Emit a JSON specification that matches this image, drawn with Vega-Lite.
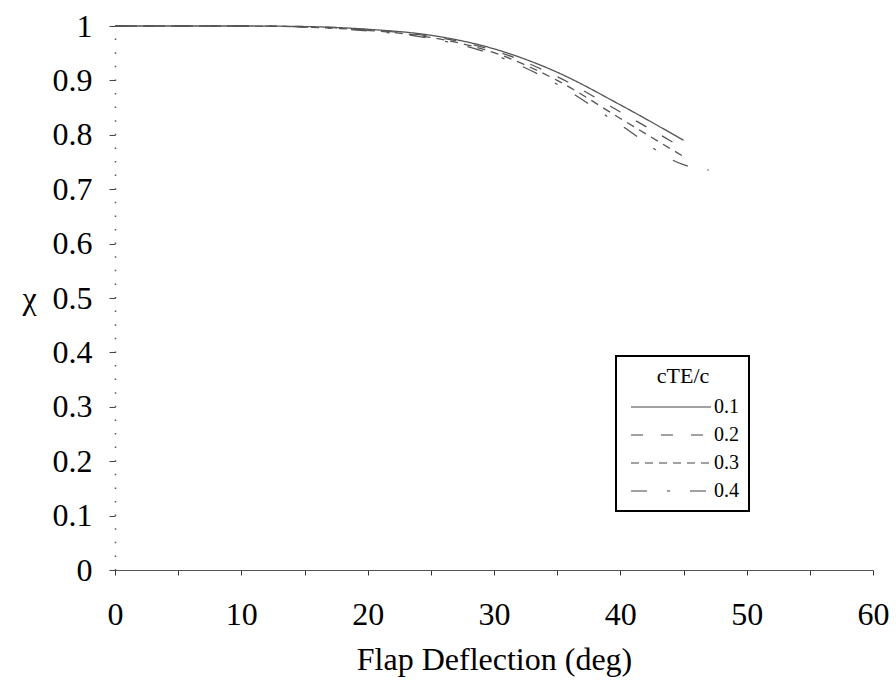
{
  "$schema": "https://vega.github.io/schema/vega-lite/v6.json",
  "width": 758,
  "height": 544,
  "autosize": {"type": "none"},
  "padding": {"left": 115, "top": 26, "right": 23, "bottom": 115},
  "background": "white",
  "config": {
    "view": {"stroke": null},
    "font": "Liberation Serif",
    "axis": {"grid": false, "labelFont": "Liberation Serif", "titleFont": "Liberation Serif", "labelColor": "black", "titleColor": "black", "titleFontWeight": "normal"},
    "legend": {"labelFont": "Liberation Serif", "titleFont": "Liberation Serif"}
  },
  "data": {
    "values": [
      {"d": 0, "chi": 1.0, "s": "0.1"}, {"d": 5, "chi": 1.0, "s": "0.1"}, {"d": 10, "chi": 1.0, "s": "0.1"}, {"d": 15, "chi": 0.999, "s": "0.1"}, {"d": 20, "chi": 0.994, "s": "0.1"}, {"d": 25, "chi": 0.983, "s": "0.1"}, {"d": 30, "chi": 0.958, "s": "0.1"}, {"d": 35, "chi": 0.915, "s": "0.1"}, {"d": 40, "chi": 0.855, "s": "0.1"}, {"d": 45, "chi": 0.79, "s": "0.1"},
      {"d": 0, "chi": 1.0, "s": "0.2"}, {"d": 5, "chi": 1.0, "s": "0.2"}, {"d": 10, "chi": 1.0, "s": "0.2"}, {"d": 15, "chi": 0.999, "s": "0.2"}, {"d": 20, "chi": 0.993, "s": "0.2"}, {"d": 25, "chi": 0.981, "s": "0.2"}, {"d": 30, "chi": 0.955, "s": "0.2"}, {"d": 35, "chi": 0.907, "s": "0.2"}, {"d": 40, "chi": 0.842, "s": "0.2"}, {"d": 45, "chi": 0.775, "s": "0.2"},
      {"d": 0, "chi": 1.0, "s": "0.3"}, {"d": 5, "chi": 1.0, "s": "0.3"}, {"d": 10, "chi": 1.0, "s": "0.3"}, {"d": 15, "chi": 0.998, "s": "0.3"}, {"d": 20, "chi": 0.992, "s": "0.3"}, {"d": 25, "chi": 0.979, "s": "0.3"}, {"d": 30, "chi": 0.951, "s": "0.3"}, {"d": 35, "chi": 0.9, "s": "0.3"}, {"d": 40, "chi": 0.83, "s": "0.3"}, {"d": 45, "chi": 0.76, "s": "0.3"},
      {"d": 0, "chi": 1.0, "s": "0.4"}, {"d": 5, "chi": 1.0, "s": "0.4"}, {"d": 10, "chi": 1.0, "s": "0.4"}, {"d": 15, "chi": 0.998, "s": "0.4"}, {"d": 20, "chi": 0.991, "s": "0.4"}, {"d": 25, "chi": 0.977, "s": "0.4"}, {"d": 30, "chi": 0.947, "s": "0.4"}, {"d": 35, "chi": 0.893, "s": "0.4"}, {"d": 40, "chi": 0.818, "s": "0.4"}, {"d": 45, "chi": 0.745, "s": "0.4"}, {"d": 47, "chi": 0.735, "s": "0.4"}
    ]
  },
  "mark": {"type": "line", "color": "#555555", "strokeWidth": 1.3, "interpolate": "monotone"},
  "encoding": {
    "x": {
      "field": "d", "type": "quantitative",
      "scale": {"domain": [0, 60], "nice": false},
      "axis": {
        "title": "Flap Deflection (deg)",
        "values": [0, 5, 10, 15, 20, 25, 30, 35, 40, 45, 50, 55, 60],
        "labelExpr": "datum.value % 10 === 0 ? datum.label : ''",
        "labelFontSize": 32, "titleFontSize": 32,
        "tickSize": 5, "tickColor": "#333", "domainColor": "#555", "domainWidth": 1.2,
        "labelPadding": 24, "titlePadding": 14, "labelFlush": false
      }
    },
    "y": {
      "field": "chi", "type": "quantitative",
      "scale": {"domain": [0, 1], "nice": false},
      "axis": {
        "title": "χ",
        "format": "~g",
        "values": [0, 0.1, 0.2, 0.3, 0.4, 0.5, 0.6, 0.7, 0.8, 0.9, 1],
        "labelFontSize": 32, "titleFontSize": 32,
        "titleAngle": 0, "titleX": -86, "titleY": 272, "titleAlign": "center", "titleBaseline": "middle",
        "tickSize": 6, "tickColor": "#444", "domainColor": "#555", "domainDash": [1.5, 12.1], "domainWidth": 1.5,
        "labelPadding": 17, "labelFlush": false
      }
    },
    "strokeDash": {
      "field": "s", "type": "nominal",
      "scale": {"domain": ["0.1", "0.2", "0.3", "0.4"], "range": [[1, 0], [12, 18], [8, 6], [16, 20, 3, 20]]},
      "legend": {
        "title": "cTE/c",
        "orient": "none", "legendX": 501, "legendY": 330,
        "titleFontSize": 22, "titleAnchor": "middle", "titleFontWeight": "normal", "titleColor": "black", "titlePadding": 8,
        "labelFontSize": 20, "labelColor": "black",
        "symbolType": "M-4,0H4", "symbolSize": 400, "symbolStrokeColor": "#444", "symbolStrokeWidth": 1.2,
        "symbolOffset": 34, "labelOffset": 32, "rowPadding": 7,
        "padding": 10, "strokeColor": "black", "fillColor": "white",
        "encode": {"legend": {"update": {"strokeWidth": {"value": 2}}}}
      }
    }
  }
}
